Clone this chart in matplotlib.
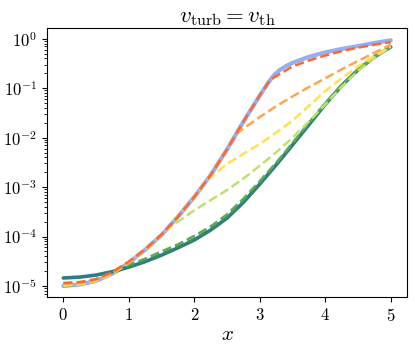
import matplotlib
matplotlib.use("Agg")
import matplotlib.pyplot as plt
from matplotlib.ticker import FixedLocator, FuncFormatter

plt.rcParams['mathtext.fontset'] = 'cm'
plt.rcParams['font.family'] = 'serif'
plt.rcParams['font.serif'] = ['cmr10', 'DejaVu Serif']
plt.rcParams['axes.formatter.use_mathtext'] = True

# solid reference curves
x_blue = [0, 0.25, 0.5, 0.75, 1, 1.25, 1.5, 1.75, 2, 2.25, 2.5, 2.75, 3, 3.15,
          3.22, 3.3, 3.4, 3.5, 3.6, 3.75, 4, 4.25, 4.5, 4.75, 5]
y_blue = [1.0e-5, 1.07e-5, 1.26e-5, 1.78e-5, 2.95e-5, 5.4e-5, 1.07e-4, 2.5e-4,
          6.3e-4, 1.74e-3, 5.75e-3, 2.1e-2, 7.1e-2, 0.141, 0.185, 0.23, 0.28,
          0.325, 0.365, 0.43, 0.53, 0.62, 0.71, 0.82, 0.93]

x_teal = [0, 0.25, 0.5, 0.75, 1, 1.25, 1.5, 1.75, 2, 2.25, 2.5, 2.75, 3, 3.25,
          3.5, 3.75, 4, 4.25, 4.5, 4.75, 5]
y_teal = [1.45e-5, 1.51e-5, 1.66e-5, 1.95e-5, 2.4e-5, 3.1e-5, 4.2e-5, 5.9e-5,
          8.5e-5, 1.35e-4, 2.35e-4, 4.9e-4, 1.15e-3, 2.8e-3, 7.1e-3, 1.82e-2,
          4.7e-2, 0.112, 0.234, 0.427, 0.68]

# dashed branches
x_red = [0, 0.25, 0.5, 0.75, 1, 1.25, 1.5, 1.75, 2, 2.25, 2.5, 2.75, 3, 3.16,
         3.5, 3.75, 4, 4.25, 4.5, 4.75, 5]
y_red = [1.15e-5, 1.2e-5, 1.38e-5, 1.9e-5, 3.1e-5, 5.5e-5, 1.1e-4, 2.5e-4,
         6.3e-4, 1.74e-3, 5.75e-3, 2.1e-2, 7.1e-2, 0.148, 0.275, 0.363, 0.457,
         0.56, 0.66, 0.76, 0.85]

x_orange = [0, 0.25, 0.5, 0.75, 1, 1.25, 1.5, 1.75, 2, 2.25, 2.5, 2.64, 3,
            3.25, 3.5, 3.75, 4, 4.25, 4.5, 4.75, 5]
y_orange = [1.1e-5, 1.15e-5, 1.32e-5, 1.85e-5, 3.0e-5, 5.4e-5, 1.07e-4, 2.5e-4,
            6.3e-4, 1.74e-3, 5.75e-3, 1.2e-2, 2.6e-2, 4.3e-2, 6.8e-2, 0.105,
            0.158, 0.24, 0.355, 0.52, 0.76]

x_yellow = [0, 0.25, 0.5, 0.75, 1, 1.25, 1.5, 1.75, 2, 2.2, 2.5, 2.75, 3, 3.25,
            3.5, 3.75, 4, 4.25, 4.5, 4.75, 5]
y_yellow = [1.02e-5, 1.08e-5, 1.27e-5, 1.78e-5, 2.95e-5, 5.4e-5, 1.07e-4,
            2.5e-4, 6.3e-4, 1.41e-3, 2.95e-3, 4.7e-3, 7.4e-3, 1.26e-2, 2.2e-2,
            4.4e-2, 8.7e-2, 0.158, 0.275, 0.45, 0.69]

x_lgreen = [0, 0.25, 0.5, 0.75, 1, 1.25, 1.57, 2, 2.5, 2.75, 3, 3.25, 3.5,
            3.75, 4, 4.25, 4.5, 4.75, 5]
y_lgreen = [1.02e-5, 1.08e-5, 1.27e-5, 1.78e-5, 2.95e-5, 5.4e-5, 1.35e-4,
            3.4e-4, 8.7e-4, 1.48e-3, 2.7e-3, 5.0e-3, 1.0e-2, 2.1e-2, 4.7e-2,
            0.107, 0.224, 0.41, 0.68]

x_green = [0, 0.25, 0.5, 0.75, 1, 1.25, 1.5, 1.75, 2, 2.25, 2.5, 2.75, 3, 3.25,
           3.5, 3.75, 4, 4.25, 4.5, 4.75, 5]
y_green = [1.05e-5, 1.12e-5, 1.32e-5, 1.82e-5, 2.7e-5, 3.55e-5, 5.0e-5, 6.9e-5,
           1.03e-4, 1.6e-4, 2.8e-4, 5.8e-4, 1.32e-3, 3.1e-3, 7.8e-3, 2.0e-2,
           5.0e-2, 0.117, 0.24, 0.43, 0.68]

x_dgreen = [0, 0.25, 0.5, 0.75, 1, 1.25, 1.5, 1.75, 2, 2.25, 2.5, 2.75, 3, 3.25,
            3.5, 3.75, 4, 4.25, 4.5, 4.75, 5]
y_dgreen = [1.0e-5, 1.08e-5, 1.3e-5, 1.8e-5, 2.5e-5, 3.25e-5, 4.4e-5, 6.2e-5,
            8.9e-5, 1.42e-4, 2.45e-4, 5.2e-4, 1.21e-3, 2.95e-3, 7.4e-3, 1.9e-2,
            4.9e-2, 0.115, 0.236, 0.43, 0.68]

xticks = [0, 1, 2, 3, 4, 5]

fig = plt.figure(figsize=(4.15, 3.48), dpi=100)
ax = fig.add_axes([0.113, 0.147, 0.868, 0.773])

ax.plot(x_blue, y_blue, color='#97aef0', lw=3.0, solid_capstyle='round', zorder=2)
ax.plot(x_teal, y_teal, color='#2b7d87', lw=2.6, solid_capstyle='round', zorder=3)
ax.plot(x_dgreen, y_dgreen, '--', color='#3b8d4f', lw=1.8, zorder=4)
ax.plot(x_green, y_green, '--', color='#5aab5e', lw=1.8, zorder=4)
ax.plot(x_lgreen, y_lgreen, '--', color='#bde36e', lw=1.8, zorder=4)
ax.plot(x_yellow, y_yellow, '--', color='#ffe24d', lw=1.8, zorder=4)
ax.plot(x_orange, y_orange, '--', color='#ffa552', lw=1.8, zorder=4)
ax.plot(x_red, y_red, '--', color='#fb6a2c', lw=1.8, zorder=5)

ax.set_yscale('log')
ax.set_ylim(10 ** -5.22, 10 ** 0.22)
ax.set_xlim(-0.25, 5.25)
ax.xaxis.set_major_locator(FixedLocator(xticks))
ax.xaxis.set_major_formatter(FuncFormatter(lambda v, p: r'$%d$' % v))

ax.tick_params(labelsize=12)
ax.set_xlabel(r'$x$', fontsize=15, labelpad=2)
ax.set_title(r'$v_{\rm turb} = v_{\rm th}$', fontsize=16.5, pad=4)

fig.savefig('out.png', dpi=100)
